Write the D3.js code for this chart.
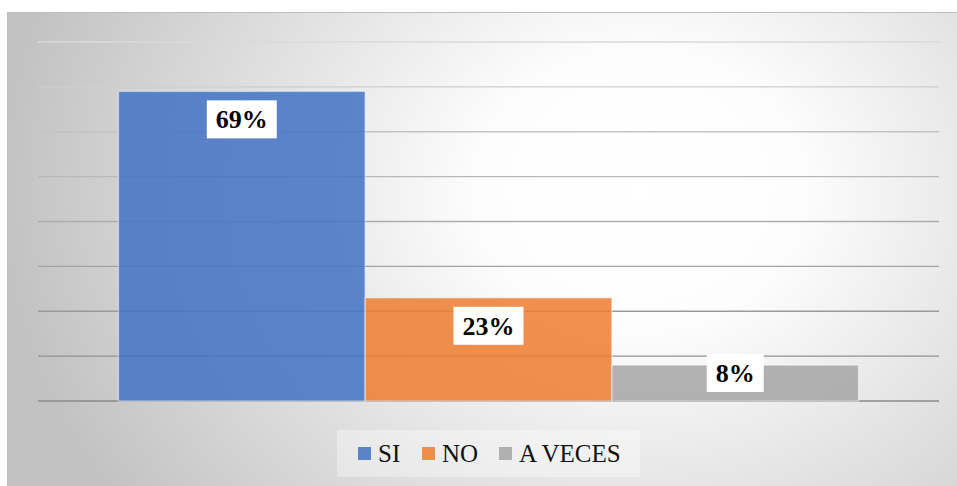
<!DOCTYPE html>
<html><head><meta charset="utf-8">
<script src="https://cdn.jsdelivr.net/npm/d3@7"></script>
<style>body{margin:0;background:#fff;}svg{display:block;}
.ser{font-family:"Liberation Serif","DejaVu Serif","Noto Serif","Times New Roman",Times,"Nimbus Roman","Nimbus Roman No9 L",FreeSerif,Georgia,serif;}
</style>
</head><body>
<svg id="c" width="957" height="486"></svg>
<script>
const series = ["SI", "NO", "A VECES"];
const values = [0.69, 0.23, 0.08];
const labels = ["69%", "23%", "8%"];
const colors = ["#4472C4", "#ED7D31", "#A5A5A5"];
const yTicks = [0, 0.1, 0.2, 0.3, 0.4, 0.5, 0.6, 0.7, 0.8];

const svg = d3.select("#c");
const defs = svg.append("defs");
const rg = defs.append("radialGradient").attr("id","bg")
  .attr("gradientUnits","userSpaceOnUse").attr("cx",640).attr("cy",190).attr("r",640)
  .attr("gradientTransform","translate(640,190) scale(1,0.85) translate(-640,-190)");
rg.append("stop").attr("offset","0").attr("stop-color","#ffffff");
rg.append("stop").attr("offset","0.25").attr("stop-color","#fdfdfd");
rg.append("stop").attr("offset","1").attr("stop-color","#c2c2c2");

const gg = defs.append("linearGradient").attr("id","gl")
  .attr("gradientUnits","userSpaceOnUse").attr("x1",0).attr("y1",42).attr("x2",0).attr("y2",401);
gg.append("stop").attr("offset","0").attr("stop-color","#dadada");
gg.append("stop").attr("offset","0.6").attr("stop-color","#a4a4a4");
gg.append("stop").attr("offset","1").attr("stop-color","#8a8a8a");

// chart area
svg.append("rect").attr("x",7.5).attr("y",12.5).attr("width",960).attr("height",480)
  .attr("fill","url(#bg)").attr("stroke","#bdbdbd").attr("stroke-width",1);

const x = d3.scaleBand().domain(series).range([38, 939]).paddingInner(0).paddingOuter(0.326);
const y = d3.scaleLinear().domain([0, 0.8]).range([401, 42]);

// gridlines
svg.append("g").selectAll("line").data(yTicks).join("line")
  .attr("x1",38).attr("x2",939)
  .attr("y1",d=>y(d)).attr("y2",d=>y(d))
  .attr("stroke","url(#gl)").attr("stroke-width",1.4);

// bars
svg.append("g").selectAll("rect").data(series).join("rect")
  .attr("x",d=>x(d)).attr("width",x.bandwidth())
  .attr("y",(d,i)=>y(values[i])).attr("height",(d,i)=>y(0)-y(values[i]))
  .attr("fill",(d,i)=>colors[i]).attr("fill-opacity",0.86)
  .attr("stroke","#ffffff").attr("stroke-opacity",0.45).attr("stroke-width",1.5);

// data labels
const lg = svg.append("g");
series.forEach((s,i)=>{
  const t = lg.append("text").text(labels[i]).attr("class","ser")
    .style("font-weight","bold").style("font-size","26px").attr("fill","#000")
    .attr("text-anchor","middle");
  const w = t.node().getComputedTextLength();
  const bw = w + 18, bh = 38;
  const top = Math.min(y(values[i]) + 9, y(0) - bh - 9);
  const cx = x(s) + x.bandwidth()/2;
  lg.insert("rect","text").attr("x",cx-bw/2).attr("y",top).attr("width",bw).attr("height",bh).attr("fill","#fff");
  t.attr("x",cx).attr("y",top+bh/2).attr("dy","0.35em");
});
lg.selectAll("text").raise();

// legend
const leg = svg.append("g");
leg.append("rect").attr("x",337).attr("y",430).attr("width",303).attr("height",47)
  .attr("fill","#ffffff").attr("fill-opacity",0.35);
const legX = [358, 422, 499];
series.forEach((s,i)=>{
  leg.append("rect").attr("x",legX[i]).attr("y",447).attr("width",13).attr("height",13)
    .attr("fill",colors[i]).attr("fill-opacity",0.86);
  leg.append("text").text(s).attr("class","ser").attr("x",legX[i]+20).attr("y",462)
    .style("font-size","25px").attr("fill","#111");
});
</script>
</body></html>
